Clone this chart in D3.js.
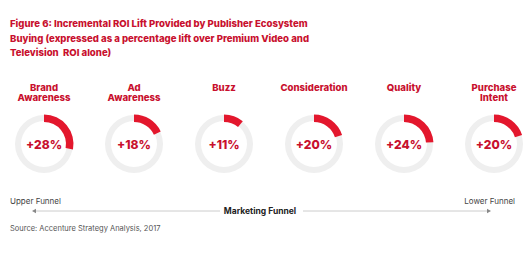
<!DOCTYPE html>
<html><head><meta charset="utf-8">
<script src="https://cdn.jsdelivr.net/npm/d3@7"></script>
<style>body{margin:0;background:#fff}svg{display:block}</style>
</head><body>
<script>
const titleLines = ["Figure 6: Incremental ROI Lift Provided by Publisher Ecosystem",
  "Buying (expressed as a percentage lift over Premium Video and",
  "Television  ROI alone)"];
const categories = [["Brand","Awareness"],["Ad","Awareness"],["Buzz"],["Consideration"],["Quality"],["Purchase","Intent"]];
const lifts = [28, 18, 11, 20, 24, 20];
const funnelLabels = ["Upper Funnel", "Marketing Funnel", "Lower Funnel"];
const sourceText = "Source: Accenture Strategy Analysis, 2017";

const W = 530, H = 253;
const svg = d3.select("body").append("svg").attr("width", W).attr("height", H);
const font = "Inter, 'Noto Sans', sans-serif";
const titleRed = "#c8102e", arcRed = "#e3172d";

svg.append("g").selectAll("text").data(titleLines).join("text")
  .attr("x", 10).attr("y", (d,i) => 27 + i*14.5)
  .attr("font-family", font).attr("font-weight", 800).attr("font-size", 9.6)
  .attr("fill", titleRed).style("white-space","pre").text(d => d);

const x = d3.scalePoint().domain(d3.range(categories.length)).range([44, 494]);
const cy = 144;
const pct = d3.scaleLinear().domain([0, 100]).range([0, 2*Math.PI]);
const ring = d3.arc().innerRadius(23).outerRadius(29);
const redArc = d3.arc().innerRadius(22).outerRadius(29.5);

const g = svg.append("g").selectAll("g").data(lifts).join("g")
  .attr("transform", (d,i) => `translate(${x(i)},${cy})`);
g.append("path").attr("d", ring({startAngle:0, endAngle:2*Math.PI})).attr("fill", "#efefef");
g.append("path").attr("d", d => redArc({startAngle:0, endAngle:pct(d)})).attr("fill", arcRed);
g.append("text").attr("text-anchor","middle").attr("y", 4.5)
  .attr("font-family", font).attr("font-weight", 800).attr("font-size", 12)
  .attr("fill", titleRed).text(d => "+" + d + "%");

svg.append("g").selectAll("text").data(categories).join("text")
  .attr("text-anchor","middle").attr("x", (d,i) => x(i))
  .attr("font-family", font).attr("font-weight", 800).attr("font-size", 9.6)
  .attr("fill", titleRed)
  .each(function(d){
    d3.select(this).selectAll("tspan").data(d).join("tspan")
      .attr("x", d3.select(this).attr("x")).attr("y", (t,j) => 91 + j*10).text(t => t);
  });

// funnel
svg.append("text").attr("x", 10).attr("y", 204).attr("font-family", font)
  .attr("font-size", 8).attr("fill", "#444").text(funnelLabels[0]);
svg.append("text").attr("x", 515).attr("y", 204).attr("text-anchor","end").attr("font-family", font)
  .attr("font-size", 8).attr("fill", "#444").text(funnelLabels[2]);
svg.append("text").attr("x", 260).attr("y", 214).attr("text-anchor","middle").attr("font-family", font)
  .attr("font-weight", 700).attr("font-size", 8.5).attr("fill", "#222").text(funnelLabels[1]);
const ly = 211;
svg.append("line").attr("x1", 34).attr("x2", 220).attr("y1", ly).attr("y2", ly).attr("stroke", "#ccc").attr("stroke-width", 1);
svg.append("line").attr("x1", 303).attr("x2", 489).attr("y1", ly).attr("y2", ly).attr("stroke", "#ccc").attr("stroke-width", 1);
svg.append("path").attr("d", `M32,${ly} L36,${ly-2.2} L36,${ly+2.2}Z`).attr("fill", "#888");
svg.append("path").attr("d", `M491,${ly} L487,${ly-2.2} L487,${ly+2.2}Z`).attr("fill", "#888");
svg.append("text").attr("x", 10).attr("y", 231).attr("font-family", font)
  .attr("font-size", 7.5).attr("fill", "#555").text(sourceText);
</script>
</body></html>
